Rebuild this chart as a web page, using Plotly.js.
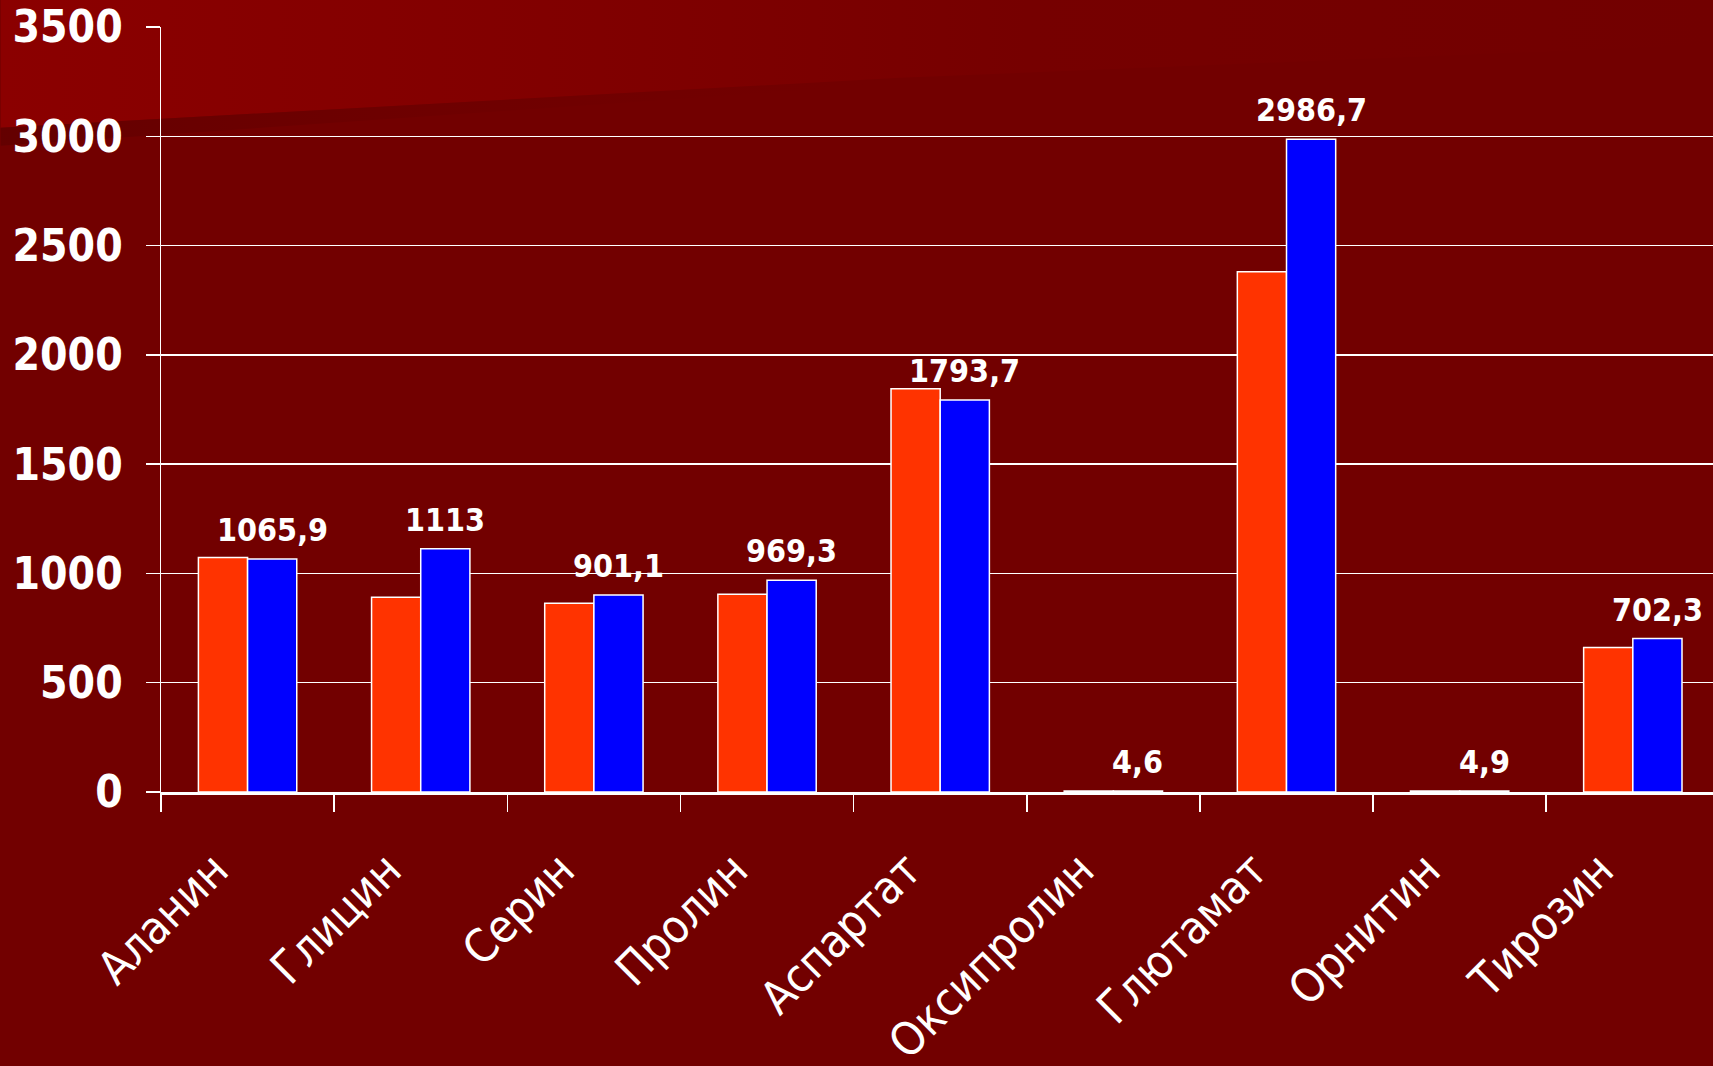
<!DOCTYPE html>
<html>
<head>
<meta charset="utf-8">
<script src="https://cdn.plot.ly/plotly-3.0.1.min.js"></script>
<style>
  html, body { margin: 0; padding: 0; background: #720000; }
  #chart { width: 1713px; height: 1066px; }
</style>
</head>
<body>
<div id="chart"></div>
<script>
// ---- data ----
const categories = ["Аланин", "Глицин", "Серин", "Пролин", "Аспартат", "Оксипролин", "Глютамат", "Орнитин", "Тирозин"];
const seriesRed  = [1073, 891, 863, 905, 1845, 5, 2380, 5, 661];
const seriesBlue = [1065.9, 1113, 901.1, 969.3, 1793.7, 4.6, 2986.7, 4.9, 702.3];
const yTicks = [0, 500, 1000, 1500, 2000, 2500, 3000, 3500];

// ---- geometry of the page ----
const W = 1713, H = 1066;
const mL = 160.6, mR = 0, mT = 27.3, mB = 274;
const plotW = W - mL - mR, plotH = H - mT - mB;
const catPx = 173.2;
const xMax = -0.5 + plotW / catPx;
const bargap = 0.432;
const halfBar = catPx * (1 - bargap) / 4;

const labelText = v => String(v).replace('.', ',');

// background gradient as inline SVG
const bgSvg = `<svg xmlns="http://www.w3.org/2000/svg" width="${W}" height="${H}" viewBox="0 0 ${W} ${H}">
<defs>
<linearGradient id="g" x1="0" y1="0" x2="1" y2="0">
<stop offset="0" stop-color="#8b0000"/>
<stop offset="0.35" stop-color="#800000"/>
<stop offset="0.6" stop-color="#760000"/>
<stop offset="1" stop-color="#720000"/>
</linearGradient>
<linearGradient id="d" x1="0" y1="0" x2="1" y2="0">
<stop offset="0" stop-color="#620000" stop-opacity="0.9"/>
<stop offset="0.6" stop-color="#6a0000" stop-opacity="0.3"/>
<stop offset="1" stop-color="#720000" stop-opacity="0"/>
</linearGradient>
</defs>
<rect x="0" y="0" width="${W}" height="${H}" fill="#720000"/>
<path d="M0,0 L${W},0 L${W},45 L900,78 L0,128 Z" fill="url(#g)"/>
<path d="M0,128 L900,78 L900,84 L0,146 Z" fill="url(#d)"/>
</svg>`;
const bgUri = 'data:image/svg+xml;charset=utf-8,' + encodeURIComponent(bgSvg);

const traceRed = {
  type: 'bar',
  x: categories,
  y: seriesRed,
  name: 'red',
  marker: { color: '#ff3300', line: { color: '#ffffff', width: 1.5 } },
  hoverinfo: 'x+y'
};
const traceBlue = {
  type: 'bar',
  x: categories,
  y: seriesBlue,
  name: 'blue',
  marker: { color: '#0000ff', line: { color: '#ffffff', width: 1.5 } },
  hoverinfo: 'x+y'
};

const annotations = categories.map((c, i) => ({
  x: c, y: seriesBlue[i], xref: 'x', yref: 'y',
  text: labelText(seriesBlue[i]),
  showarrow: false,
  xanchor: 'center', yanchor: 'bottom',
  xshift: halfBar, yshift: 8,
  font: { family: 'DejaVu Sans Condensed', size: 32, color: '#ffffff', weight: 'bold' }
}));

const layout = {
  width: W, height: H,
  margin: { l: mL, r: mR, t: mT, b: mB, pad: 0 },
  paper_bgcolor: '#720000',
  plot_bgcolor: 'rgba(0,0,0,0)',
  showlegend: false,
  barmode: 'group',
  bargap: bargap,
  bargroupgap: 0,
  images: [{
    source: bgUri, xref: 'paper', yref: 'paper',
    x: -mL / plotW, y: (plotH + mT) / plotH,
    sizex: W / plotW, sizey: H / plotH,
    sizing: 'stretch', xanchor: 'left', yanchor: 'top', layer: 'below'
  }],
  xaxis: {
    type: 'category',
    range: [-0.5, xMax],
    tickson: 'boundaries',
    ticks: 'outside', ticklen: 17, tickwidth: 1.5, tickcolor: '#ffffff',
    showline: true, linecolor: '#ffffff', linewidth: 2.5,
    showgrid: false, zeroline: false,
    tickangle: -45,
    ticklabelstandoff: 30,
    ticklabelshift: -33,
    tickfont: { family: 'DejaVu Sans Condensed', size: 46, color: '#ffffff' },
    fixedrange: true
  },
  yaxis: {
    range: [0, 3500],
    tickvals: yTicks,
    ticktext: yTicks.map(String),
    ticks: 'outside', ticklen: 14, tickwidth: 1.5, tickcolor: '#ffffff',
    ticklabelstandoff: 14,
    showline: true, linecolor: '#ffffff', linewidth: 1.5,
    showgrid: true, gridcolor: '#ffffff', gridwidth: 1.5,
    zeroline: false,
    tickfont: { family: 'DejaVu Sans Condensed', size: 44, color: '#ffffff', weight: 'bold' },
    fixedrange: true
  },
  annotations: annotations
};

Plotly.newPlot('chart', [traceRed, traceBlue], layout, { displayModeBar: false, staticPlot: true });
</script>
</body>
</html>
